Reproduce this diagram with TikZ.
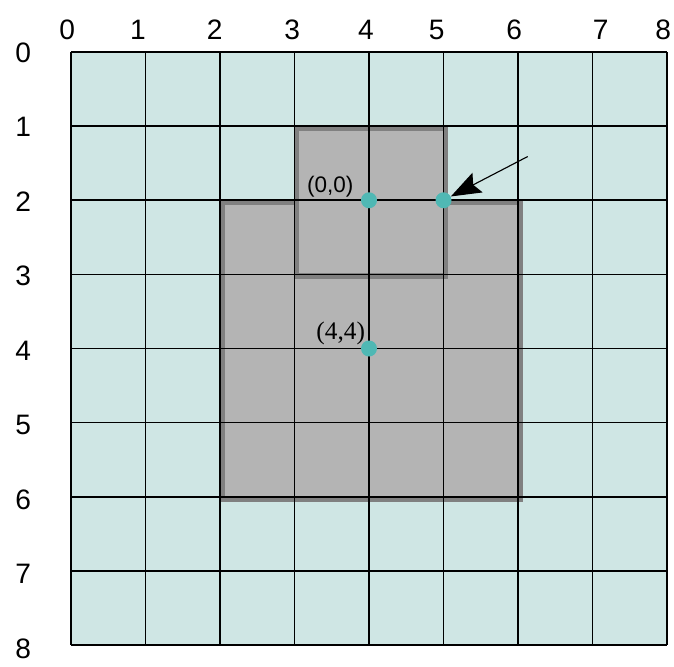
\documentclass[tikz,border=0pt]{standalone}
\usepackage{fontspec}
\setmainfont{Liberation Sans}
\newfontfamily\serifnum{Liberation Serif}
\usetikzlibrary{arrows.meta}
\definecolor{cellteal}{HTML}{CFE6E4}
\definecolor{blockgray}{HTML}{B4B4B4}
\definecolor{edgegray}{HTML}{808080}
\definecolor{dotteal}{HTML}{4FB8B4}

\begin{document}
\begin{tikzpicture}[x=1.8625cm, y=-1.853cm,
  axislbl/.style={font=\fontsize{20}{20}\selectfont},
  ptlbl/.style={font=\fontsize{16}{16}\selectfont},
  shadowedge/.style={draw=edgegray, line width=4.2pt, xshift=0.05cm, yshift=-0.05cm},
  pt/.style={circle, fill=dotteal, inner sep=0pt, minimum size=0.4cm}]
  \useasboundingbox (-0.953,-0.702) rectangle (8.094,8.286);

  % --- background cells ---
  \fill[cellteal] (0,0) rectangle (8,8);

  % --- shaded region (two blocks, offset dark edge) ---
  \fill[blockgray] (2,2) rectangle (6,6);
  \draw[shadowedge] (2,2) rectangle (6,6);
  \fill[blockgray] (3,1) rectangle (5,3);
  \draw[shadowedge] (3,1) rectangle (5,3);

  % grid lines
  \foreach \i in {0,...,8} {
    \draw[line width=1.1pt] (\i,0) -- (\i,8);
    \draw[line width=1.1pt] (0,\i) -- (8,\i);
  }

  % axis numbers
  \foreach \i/\p in {0/-0.05, 1/0.9, 2/1.93, 3/2.97, 4/3.96, 5/4.91, 6/5.95, 7/7.11, 8/7.95}
    \node[axislbl] (top\i) at (\p,-0.30) {\i};
  \foreach \i in {0,...,8}
    \node[axislbl] (left\i) at (-0.64,0.01+\i*1.005) {\i};

  % --- points ---
  \node[pt] (origin) at (4,2) {};
  \node[pt] (corner) at (5,2) {};
  \node[pt] (centre) at (4,4) {};
  \node[ptlbl] (originlbl) at (3.48,1.81) {(0,0)};
  \node[ptlbl, font=\serifnum\fontsize{18}{18}\selectfont] (centrelbl) at (3.62,3.79) {(4,4)};

  % arrow to the corner point
  \coordinate (tail) at (6.13,1.41);
  \draw[-{Stealth[length=0.75cm, width=0.55cm, inset=0.12cm]}, line width=0.8pt] (tail) -- (corner);
\end{tikzpicture}
\end{document}
